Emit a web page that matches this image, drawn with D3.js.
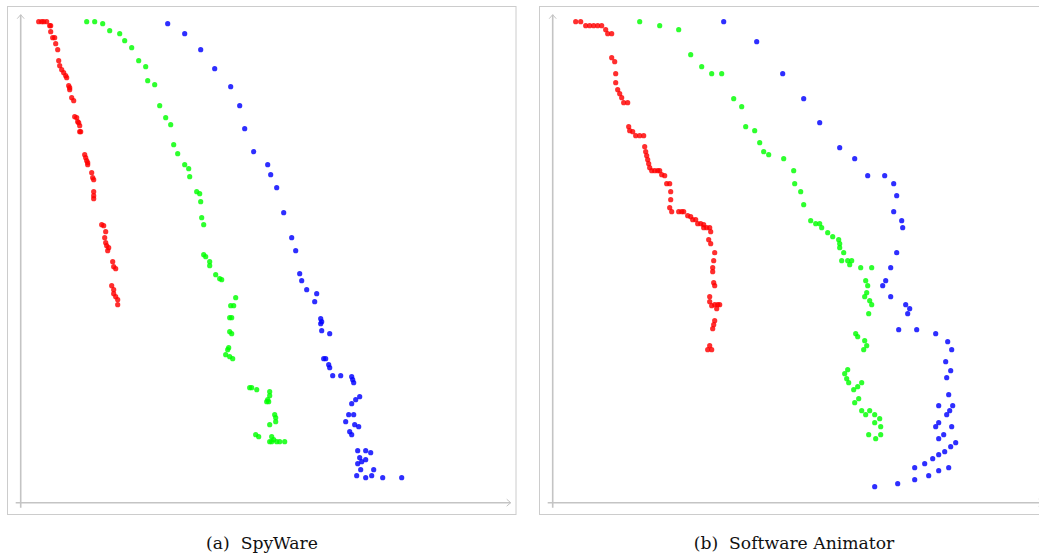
<!DOCTYPE html>
<html>
<head>
<meta charset="utf-8">
<script src="https://cdn.jsdelivr.net/npm/d3@7"></script>
<style>
    html, body { margin: 0; padding: 0; background: #fff; }
    svg { display: block; }
</style>
</head>
<body>
<svg id="chart"></svg>
<script>
// values, [x, y] in plot units (origin at the axes corner)
const spyRed = [[18,481],[21,481],[23,481],[26,481],[29,477],[30,477],[30,471],[32,465],[34,465],[35,459],[37,453],[38,442],[39,437],[41,433],[43,430],[45,427],[46,425],[48,417],[49,415],[49,413],[51,405],[53,402],[54,386],[56,385],[57,381],[58,380],[59,377],[59,371],[60,371],[64,348],[65,345],[66,342],[67,340],[67,338],[71,330],[72,325],[73,323],[73,311],[73,307],[73,304],[81,278],[83,277],[85,271],[84,265],[85,260],[86,257],[88,255],[87,252],[92,241],[93,236],[95,234],[91,217],[93,213],[93,209],[95,206],[97,203],[97,198]];
const spyGreen = [[66,481],[74,481],[82,479],[89,472],[99,469],[104,462],[111,455],[118,442],[125,436],[127,422],[134,418],[139,397],[145,385],[150,378],[153,358],[157,349],[164,338],[168,334],[169,326],[176,311],[179,309],[180,301],[181,285],[183,278],[183,248],[185,246],[189,241],[189,237],[195,228],[199,224],[201,223],[215,205],[210,197],[213,197],[209,185],[211,185],[209,171],[211,169],[208,155],[207,153],[205,148],[209,146],[212,144],[229,115],[231,115],[236,113],[249,111],[249,107],[247,103],[246,101],[248,101],[254,88],[255,85],[255,81],[249,78],[235,68],[238,66],[251,66],[253,63],[249,61],[251,61],[256,61],[259,61],[264,61]];
const spyBlue = [[147,479],[164,469],[180,453],[194,434],[210,416],[219,397],[224,374],[233,351],[247,338],[250,328],[256,315],[263,290],[271,265],[275,252],[279,229],[281,222],[286,213],[296,209],[294,201],[300,184],[301,181],[300,179],[301,172],[309,169],[303,144],[305,144],[308,138],[309,135],[312,127],[320,127],[331,126],[332,123],[333,120],[339,106],[335,103],[331,99],[328,88],[333,88],[325,81],[334,78],[338,76],[329,71],[331,68],[337,52],[345,52],[350,50],[339,45],[345,43],[341,41],[337,39],[340,33],[353,33],[336,27],[345,25],[351,27],[362,25],[381,25]];

const animRed = [[23,481],[28,481],[33,477],[37,477],[41,477],[45,477],[49,477],[53,473],[55,469],[59,469],[59,445],[62,441],[63,429],[63,420],[65,413],[67,409],[69,405],[71,400],[75,400],[76,376],[77,372],[80,371],[83,367],[87,367],[91,367],[92,356],[93,351],[94,347],[95,343],[96,339],[97,335],[99,332],[102,332],[105,332],[107,332],[109,328],[112,327],[114,319],[117,319],[118,311],[118,303],[117,295],[119,291],[126,291],[129,291],[131,291],[135,287],[138,286],[140,283],[143,283],[145,279],[148,279],[151,278],[151,275],[154,275],[157,275],[158,271],[156,263],[158,259],[162,250],[161,242],[160,235],[160,231],[161,220],[162,217],[157,206],[157,201],[159,197],[162,198],[165,198],[167,198],[164,194],[162,182],[161,178],[160,174],[157,157],[155,153],[159,153]];
const animGreen = [[87,481],[107,477],[126,473],[138,448],[149,436],[159,429],[169,429],[181,404],[189,396],[193,376],[202,372],[207,360],[211,351],[216,348],[231,344],[241,332],[242,319],[248,311],[251,298],[258,282],[263,279],[267,279],[269,275],[275,270],[280,266],[286,263],[287,259],[287,255],[291,250],[289,242],[295,242],[299,242],[297,238],[308,235],[319,235],[313,222],[315,217],[314,210],[312,206],[317,202],[319,198],[316,189],[303,169],[305,166],[312,162],[314,157],[311,153],[295,133],[292,129],[294,124],[296,120],[309,120],[305,116],[301,113],[306,104],[302,100],[309,92],[313,88],[317,92],[322,88],[327,84],[322,80],[328,76],[316,68],[323,64],[328,68]];
const animBlue = [[171,481],[204,461],[230,429],[251,404],[267,380],[287,355],[302,344],[315,327],[332,327],[341,319],[344,307],[341,291],[349,282],[350,275],[344,250],[338,235],[333,222],[330,217],[338,206],[353,198],[357,194],[355,189],[346,173],[364,173],[383,169],[395,161],[399,153],[393,141],[398,132],[394,125],[396,108],[386,97],[400,97],[397,92],[394,88],[386,80],[383,76],[399,76],[391,68],[386,64],[403,60],[398,56],[392,51],[386,48],[380,44],[372,39],[362,35],[396,35],[386,32],[376,27],[362,23],[345,19],[322,16]];

const captions = ['(a)\u00a0\u00a0SpyWare', '(b)\u00a0\u00a0Software Animator'];
const seriesColors = ['#ff0000', '#00ff00', '#0000ff'];

const width = 1039;
const height = 556;

const panels = [
    { caption: captions[0], series: [spyRed, spyGreen, spyBlue], left: 7.5 },
    { caption: captions[1], series: [animRed, animGreen, animBlue], left: 539.5 }
];

const svg = d3.select('#chart')
    .attr('width', width)
    .attr('height', height);

const drawPanel = p => {
    const g = svg.append('g').attr('transform', `translate(${p.left}, 0)`);

    // frame around each sub figure
    g.append('rect')
        .attr('x', 0)
        .attr('y', 6.5)
        .attr('width', 508.5)
        .attr('height', 508)
        .attr('fill', 'none')
        .attr('stroke', '#cccccc')
        .attr('stroke-width', 1);

    // scales share the same origin for both panels
    const x = d3.scaleLinear().domain([0, 490]).range([13.2, 503.2]);
    const y = d3.scaleLinear().domain([0, 488]).range([502.7, 14.7]);

    const axisColor = '#c4c4c4';
    // x axis
    g.append('line')
        .attr('x1', x(0) - 5).attr('x2', x(490))
        .attr('y1', y(0)).attr('y2', y(0))
        .attr('stroke', axisColor).attr('stroke-width', 1.6);
    g.append('path')
        .attr('d', `M${x(490) - 4},${y(0) - 3.5} L${x(490)},${y(0)} L${x(490) - 4},${y(0) + 3.5}`)
        .attr('fill', 'none').attr('stroke', axisColor).attr('stroke-width', 1);
    // y axis
    g.append('line')
        .attr('x1', x(0)).attr('x2', x(0))
        .attr('y1', y(0) + 5).attr('y2', y(488))
        .attr('stroke', axisColor).attr('stroke-width', 1.6);
    g.append('path')
        .attr('d', `M${x(0) - 3.5},${y(488) + 4} L${x(0)},${y(488)} L${x(0) + 3.5},${y(488) + 4}`)
        .attr('fill', 'none').attr('stroke', axisColor).attr('stroke-width', 1);

    // points
    p.series.forEach((data, i) => {
        g.append('g')
            .selectAll('circle')
            .data(data)
            .enter().append('circle')
            .attr('cx', d => x(d[0]))
            .attr('cy', d => y(d[1]))
            .attr('r', 2.6)
            .attr('fill', seriesColors[i])
            .attr('fill-opacity', 0.82);
    });

    // caption under the frame
    g.append('text')
        .attr('x', 254.5)
        .attr('y', 549)
        .attr('text-anchor', 'middle')
        .style('font-family', '"DejaVu Serif", serif')
        .style('font-size', '17.2px')
        .style('fill', '#111')
        .text(p.caption);
};

panels.forEach(drawPanel);
</script>
</body>
</html>
